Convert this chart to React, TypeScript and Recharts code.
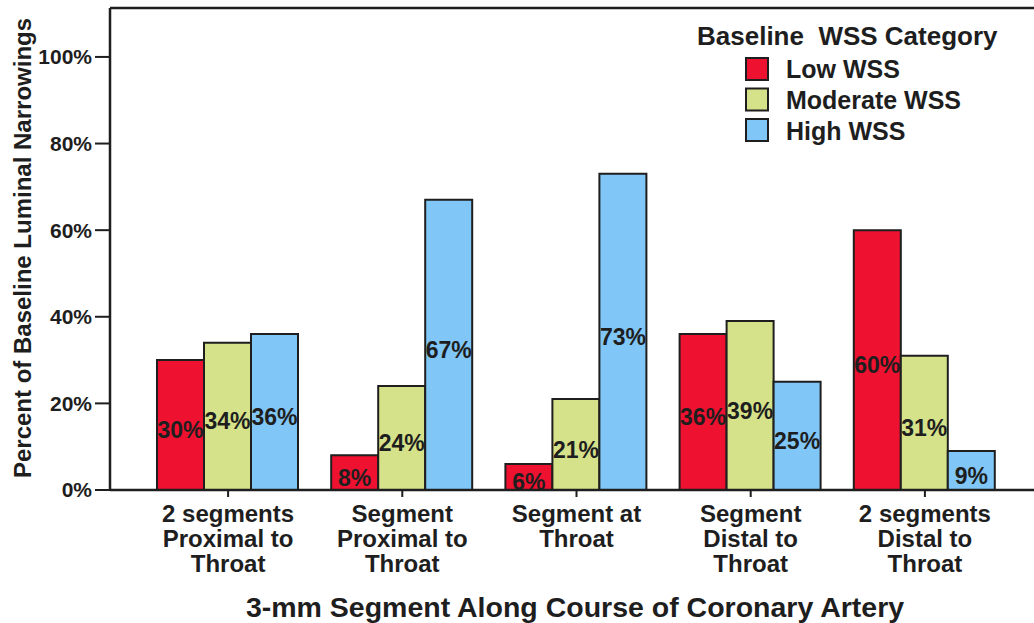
import {
  Bar,
  BarChart,
  LabelList,
  Legend,
  ReferenceLine,
  XAxis,
  YAxis,
} from 'recharts'

const FONT = "'Liberation Sans', Arial, Helvetica, sans-serif"
const INK = '#1e1e1e'

const segments = [
  '2 segments\nProximal to\nThroat',
  'Segment\nProximal to\nThroat',
  'Segment at\nThroat',
  'Segment\nDistal to\nThroat',
  '2 segments\nDistal to\nThroat',
]
const lowWss = [30, 8, 6, 36, 60]
const moderateWss = [34, 24, 21, 39, 31]
const highWss = [36, 67, 73, 25, 9]
const yTicks = [0, 20, 40, 60, 80, 100]

const series = [
  { key: 'low', name: 'Low WSS', color: '#ef1230' },
  { key: 'moderate', name: 'Moderate WSS', color: '#d5e28a' },
  { key: 'high', name: 'High WSS', color: '#80c6f6' },
]

const rows = segments.map((name, i) => ({
  name,
  low: lowWss[i],
  moderate: moderateWss[i],
  high: highWss[i],
}))

const Y_MAX = 111.3

function SegmentTick({ x, y, payload }: any) {
  const lines = String(payload.value).split('\n')
  return (
    <text
      x={x}
      y={y}
      textAnchor="middle"
      fontFamily={FONT}
      fontWeight="bold"
      fontSize={24}
      fill={INK}
    >
      {lines.map((line, i) => (
        <tspan key={i} x={x} dy={i === 0 ? 23 : 25}>
          {line}
        </tspan>
      ))}
    </text>
  )
}

function ValueLabel({ x, y, width, height, value }: any) {
  return (
    <text
      x={x + width / 2}
      y={y + height / 2 + 5}
      textAnchor="middle"
      dominantBaseline="central"
      fontFamily={FONT}
      fontWeight="bold"
      fontSize={23}
      fill={INK}
    >
      {`${value}%`}
    </text>
  )
}

function YTitle({ viewBox }: any) {
  const cy = viewBox.y + viewBox.height / 2
  return (
    <text
      transform={`translate(31, ${cy - 1}) rotate(-90)`}
      textAnchor="middle"
      fontFamily={FONT}
      fontWeight="bold"
      fontSize={24}
      fill={INK}
    >
      Percent of Baseline Luminal Narrowings
    </text>
  )
}

function XTitle() {
  return (
    <text
      x={575}
      y={617}
      textAnchor="middle"
      fontFamily={FONT}
      fontWeight="bold"
      fontSize={28.5}
      fill={INK}
    >
      3-mm Segment Along Course of Coronary Artery
    </text>
  )
}

function WssLegend() {
  return (
    <svg width={340} height={140} style={{ display: 'block' }}>
      <text
        x={7}
        y={27}
        fontFamily={FONT}
        fontWeight="bold"
        fontSize={26}
        fill={INK}
        style={{ whiteSpace: 'pre' }}
      >
        {'Baseline  WSS Category'}
      </text>
      {series.map((s, i) => (
        <g key={s.key}>
          <rect
            x={56}
            y={40 + i * 30.5}
            width={22}
            height={22}
            fill={s.color}
            stroke={INK}
            strokeWidth={2}
          />
          <text
            x={96}
            y={60 + i * 31}
            fontFamily={FONT}
            fontWeight="bold"
            fontSize={25}
            fill={INK}
          >
            {s.name}
          </text>
        </g>
      ))}
    </svg>
  )
}

export default function App() {
  return (
    <div style={{ position: 'absolute', left: 0, top: 0, width: 1034, height: 623, background: '#fff' }}>
      <BarChart
        width={1034}
        height={623}
        data={rows}
        margin={{ top: 8, right: 0, left: 0, bottom: 0 }}
        barGap={0}
        barCategoryGap={16}
      >
        <XAxis
          dataKey="name"
          interval={0}
          height={133}
          padding={{ left: 31, right: 22 }}
          tick={<SegmentTick />}
          tickSize={7}
          tickLine={{ stroke: INK, strokeWidth: 2 }}
          axisLine={{ stroke: INK, strokeWidth: 2.5 }}
          label={<XTitle />}
        />
        <YAxis
          width={110}
          domain={[0, Y_MAX]}
          ticks={yTicks}
          tickFormatter={(v: number) => `${v}%`}
          tickSize={15}
          tickMargin={3}
          tick={{ fontFamily: FONT, fontWeight: 'bold', fontSize: 21, fill: INK }}
          tickLine={{ stroke: INK, strokeWidth: 2 }}
          axisLine={{ stroke: INK, strokeWidth: 2.5 }}
          label={<YTitle />}
        />
        <ReferenceLine y={Y_MAX} stroke={INK} strokeWidth={2.5} />
        <Legend
          layout="vertical"
          align="center"
          verticalAlign="middle"
          content={<WssLegend />}
          wrapperStyle={{ left: 690, top: 18, width: 340, height: 140 }}
        />
        {series.map((s) => (
          <Bar
            key={s.key}
            dataKey={s.key}
            name={s.name}
            fill={s.color}
            stroke={INK}
            strokeWidth={2}
            isAnimationActive={false}
          >
            <LabelList dataKey={s.key} content={<ValueLabel />} />
          </Bar>
        ))}
      </BarChart>
    </div>
  )
}
